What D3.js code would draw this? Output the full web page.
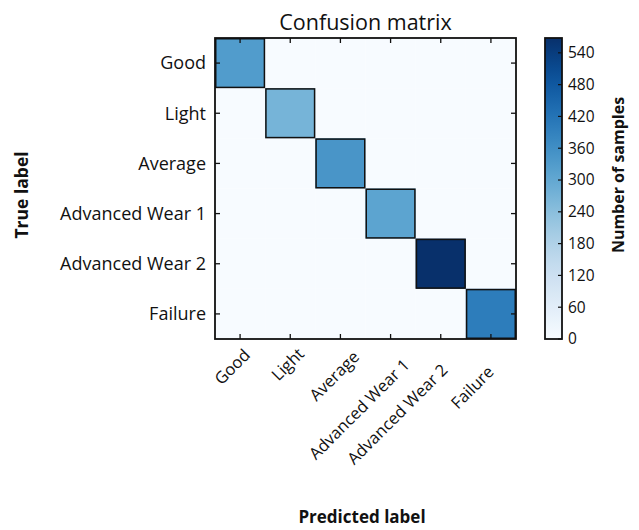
<!DOCTYPE html>
<html><head><meta charset="utf-8">
<script src="https://cdn.jsdelivr.net/npm/d3@7"></script>
<style>
body{margin:0;background:#fff;}
text{font-family:"Open Sans","Noto Sans",sans-serif;fill:#111;}
</style></head>
<body><svg id="chart" width="639" height="530"></svg>
<script>
const classes = ["Good","Light","Average","Advanced Wear 1","Advanced Wear 2","Failure"];
// rows = true label, columns = predicted label
const matrixValues = [
  [330,0,0,0,0,0],
  [0,270,0,0,0,0],
  [0,0,345,0,0,0],
  [0,0,0,310,0,0],
  [0,0,0,0,568,0],
  [0,0,0,0,0,400]
];
const colorbarTicks = [0,60,120,180,240,300,360,420,480,540];
const titleText = "Confusion matrix";
const xTitle = "Predicted label";
const yTitle = "True label";
const cbTitle = "Number of samples";

const svg = d3.select("#chart");
const M = {left:215, top:38, size:301};
const vmax = d3.max(matrixValues.flat());
const color = d3.scaleSequential(d3.interpolateBlues).domain([0, vmax]);
const x = d3.scaleBand().domain(classes).range([M.left, M.left+M.size]);
const y = d3.scaleBand().domain(classes).range([M.top, M.top+M.size]);

const cells = [];
matrixValues.forEach((row,i)=>row.forEach((v,j)=>cells.push({t:classes[i],p:classes[j],v})));
svg.append("g").selectAll("rect").data(cells).join("rect")
  .attr("x",d=>x(d.p)).attr("y",d=>y(d.t))
  .attr("width",x.bandwidth()).attr("height",y.bandwidth())
  .attr("fill",d=>color(d.v));
svg.append("g").selectAll("rect").data(cells.filter(d=>d.v>0)).join("rect")
  .attr("x",d=>x(d.p)+0.75).attr("y",d=>y(d.t)+0.75)
  .attr("width",x.bandwidth()-1.5).attr("height",y.bandwidth()-1.5)
  .attr("fill","none").attr("stroke","#111").attr("stroke-width",1.5);

// frame
svg.append("rect").attr("x",M.left).attr("y",M.top).attr("width",M.size).attr("height",M.size)
  .attr("fill","none").attr("stroke","#111").attr("stroke-width",1.8);

// inward ticks on all sides
const tl = 5;
const tg = svg.append("g").attr("stroke","#111").attr("stroke-width",1.3);
classes.forEach(c=>{
  const cx = x(c)+x.bandwidth()/2, cy = y(c)+y.bandwidth()/2;
  tg.append("line").attr("x1",cx).attr("x2",cx).attr("y1",M.top).attr("y2",M.top+tl);
  tg.append("line").attr("x1",cx).attr("x2",cx).attr("y1",M.top+M.size).attr("y2",M.top+M.size-tl);
  tg.append("line").attr("y1",cy).attr("y2",cy).attr("x1",M.left).attr("x2",M.left+tl);
  tg.append("line").attr("y1",cy).attr("y2",cy).attr("x1",M.left+M.size).attr("x2",M.left+M.size-tl);
});

// y tick labels
svg.append("g").selectAll("text").data(classes).join("text")
  .attr("x",M.left-9).attr("y",d=>y(d)+y.bandwidth()/2).attr("dy","0.35em")
  .attr("text-anchor","end").style("font-size","18px").text(d=>d);

// x tick labels, rotated 45deg
const xNudge = [[11,356],[15,355],[20,358],[20,366],[8,371],[4,373]];
svg.append("g").selectAll("text").data(classes).join("text")
  .attr("text-anchor","end").style("font-size","16.5px")
  .attr("transform",(d,i)=>`translate(${x(d)+x.bandwidth()/2+xNudge[i][0]},${xNudge[i][1]}) rotate(-45)`)
  .text(d=>d);

// title
svg.append("text").attr("x",M.left+M.size/2).attr("y",30).attr("text-anchor","middle")
  .style("font-size","21.5px").text(titleText);
// axis titles
svg.append("text").attr("x",362).attr("y",523).attr("text-anchor","middle")
  .style("font-size","17px").style("font-weight","bold").text(xTitle);
svg.append("text").attr("transform","translate(28,195) rotate(-90)").attr("text-anchor","middle")
  .style("font-size","17.5px").style("font-weight","bold").text(yTitle);

// colorbar
const CB = {x:545, y:38, w:17, h:301};
const cy = d3.scaleLinear().domain([0,vmax]).range([CB.y+CB.h, CB.y]);
const grad = svg.append("defs").append("linearGradient").attr("id","cbg")
  .attr("x1",0).attr("y1",1).attr("x2",0).attr("y2",0);
d3.range(0,1.0001,0.05).forEach(t=>grad.append("stop").attr("offset",t).attr("stop-color",color(t*vmax)));
svg.append("rect").attr("x",CB.x).attr("y",CB.y).attr("width",CB.w).attr("height",CB.h)
  .attr("fill","url(#cbg)").attr("stroke","#111").attr("stroke-width",1.8);
const cbg = svg.append("g");
cbg.selectAll("line").data(colorbarTicks).join("line")
  .attr("x1",CB.x+CB.w).attr("x2",CB.x+CB.w-4).attr("y1",d=>cy(d)).attr("y2",d=>cy(d))
  .attr("stroke","#111").attr("stroke-width",1.2);
cbg.selectAll("text").data(colorbarTicks).join("text")
  .attr("x",CB.x+CB.w+6).attr("y",d=>cy(d)).attr("dy","0.35em")
  .style("font-size","15.5px").text(d=>d);
svg.append("text").attr("transform","translate(624,175) rotate(-90)").attr("text-anchor","middle")
  .style("font-size","16px").style("font-weight","bold").text(cbTitle);
</script></body></html>
